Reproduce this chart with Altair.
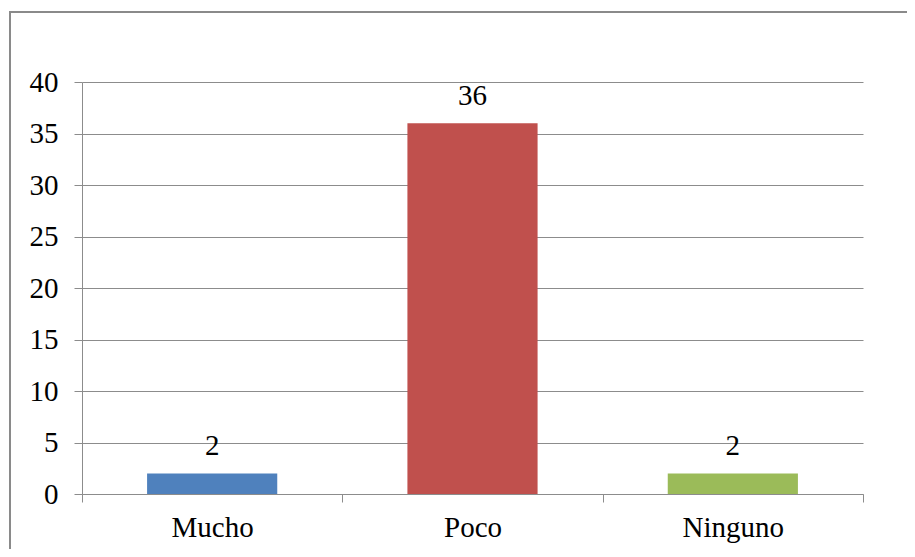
import altair as alt
import pandas as pd

categories = ["Mucho", "Poco", "Ninguno"]
values = [2, 36, 2]
colors = ["#4F81BD", "#C0504D", "#9BBB59"]
y_ticks = [0, 5, 10, 15, 20, 25, 30, 35, 40]

df = pd.DataFrame({"cat": categories, "val": values})
frame_df = pd.DataFrame({"k": [0]})

FONT = "Liberation Serif"
GRID = "#8c8c8c"
FS = 29

base = alt.Chart(df).encode(
    x=alt.X(
        "cat:N",
        sort=categories,
        scale=alt.Scale(paddingInner=0, paddingOuter=0),
        axis=alt.Axis(
            title=None, labelAngle=0, tickBand="extent", grid=False,
            domainColor=GRID, tickColor=GRID, tickSize=8, labelPadding=11,
            labelFont=FONT, labelFontSize=FS, labelColor="black",
        ),
    ),
    y=alt.Y(
        "val:Q",
        scale=alt.Scale(domain=[0, 40], nice=False),
        axis=alt.Axis(
            title=None, values=y_ticks, grid=True, gridColor=GRID,
            domainColor=GRID, tickColor=GRID, tickSize=8, labelPadding=16,
            labelFont=FONT, labelFontSize=FS, labelColor="black",
        ),
    ),
)

bars = base.mark_bar(width=alt.RelativeBandSize(0.5)).encode(
    color=alt.Color("cat:N", scale=alt.Scale(domain=categories, range=colors), legend=None)
)

labels = base.mark_text(dy=-18, baseline="alphabetic", font=FONT, fontSize=FS, color="black").encode(
    text="val:Q"
)

frame = alt.Chart(frame_df).mark_rect(fill=None, stroke="#8a8a8a", strokeWidth=2).encode(
    x=alt.value(-72), x2=alt.value(850), y=alt.value(-70), y2=alt.value(490)
)

chart = alt.layer(frame, bars, labels).properties(
    width=781,
    height=412,
    autosize=alt.AutoSizeParams(type="none"),
    padding={"left": 74, "top": 74, "right": 44, "bottom": 55},
).configure_view(stroke=None)

chart.save("out.html", embed_options={"renderer": "svg", "actions": False})
